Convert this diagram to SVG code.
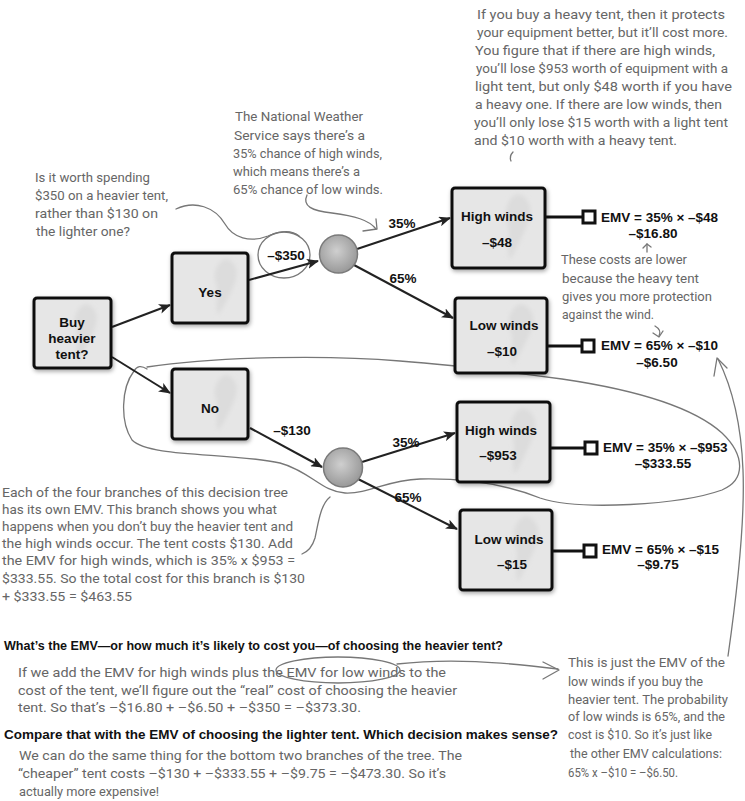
<svg xmlns="http://www.w3.org/2000/svg" width="745" height="801" viewBox="0 0 745 801">
<defs>
<style>
.box{fill:#e6e6e6;stroke:#111;stroke-width:3;filter:url(#sh)}
.blot{fill:#dcdcdc}
.lbl{font-family:"Liberation Sans",Arial,sans-serif;font-weight:bold;font-size:13.5px;fill:#111}
.mid{text-anchor:middle}
.hand{font-family:Roboto,"Open Sans","DejaVu Sans",sans-serif;font-size:13.5px;fill:#666}
.edge{fill:none;stroke:#222;stroke-width:2}
.stub{stroke:#111;stroke-width:3}
.sq{fill:#fff;stroke:#111;stroke-width:3}
.pen{fill:none;stroke:#777;stroke-width:1.3;stroke-linecap:round;stroke-linejoin:round}
.chance{fill:url(#ball);stroke:#7a7a7a;stroke-width:1.5}
.q{font-family:"Liberation Sans",Arial,sans-serif;font-weight:bold;font-size:13.5px;fill:#111}
</style>
<filter id="sh" x="-20%" y="-20%" width="140%" height="140%">
<feGaussianBlur in="SourceAlpha" stdDeviation="2"/>
<feOffset dx="1" dy="2" result="b"/>
<feFlood flood-color="#000" flood-opacity="0.35"/>
<feComposite in2="b" operator="in"/>
<feMerge><feMergeNode/><feMergeNode in="SourceGraphic"/></feMerge>
</filter>
<filter id="soft"><feGaussianBlur stdDeviation="2"/></filter>
<radialGradient id="ball" cx="0.45" cy="0.42" r="0.6">
<stop offset="0" stop-color="#cfcfcf"/>
<stop offset="1" stop-color="#979797"/>
</radialGradient>
<marker id="ah" markerWidth="12" markerHeight="10" refX="11" refY="5" orient="auto" markerUnits="userSpaceOnUse">
<path d="M0,0 L12,5 L0,10 L3,5 Z" fill="#222"/>
</marker>
</defs>
<rect width="745" height="801" fill="#fff"/>

<!-- handwritten annotations -->
<g id="note-top">
<text class="hand" x="477" y="19" textLength="248" lengthAdjust="spacingAndGlyphs">If you buy a heavy tent, then it protects</text>
<text class="hand" x="477" y="37" textLength="251" lengthAdjust="spacingAndGlyphs">your equipment better, but it’ll cost more.</text>
<text class="hand" x="475" y="55" textLength="240" lengthAdjust="spacingAndGlyphs">You figure that if there are high winds,</text>
<text class="hand" x="476" y="73" textLength="252" lengthAdjust="spacingAndGlyphs">you’ll lose $953 worth of equipment with a</text>
<text class="hand" x="475" y="91" textLength="257" lengthAdjust="spacingAndGlyphs">light tent, but only $48 worth if you have</text>
<text class="hand" x="475" y="109" textLength="247" lengthAdjust="spacingAndGlyphs">a heavy one. If there are low winds, then</text>
<text class="hand" x="474" y="127" textLength="254" lengthAdjust="spacingAndGlyphs">you’ll only lose $15 worth with a light tent</text>
<text class="hand" x="474" y="145" textLength="203" lengthAdjust="spacingAndGlyphs">and $10 worth with a heavy tent.</text>
<path class="pen" d="M513,152 Q509,156 511,161"/>
</g>
<g id="note-nws">
<text class="hand" x="235" y="121" textLength="128" lengthAdjust="spacingAndGlyphs">The National Weather</text>
<text class="hand" x="234" y="140" textLength="131" lengthAdjust="spacingAndGlyphs">Service says there’s a</text>
<text class="hand" x="233" y="158" textLength="149" lengthAdjust="spacingAndGlyphs">35% chance of high winds,</text>
<text class="hand" x="233" y="176" textLength="127" lengthAdjust="spacingAndGlyphs">which means there’s a</text>
<text class="hand" x="233" y="194" textLength="150" lengthAdjust="spacingAndGlyphs">65% chance of low winds.</text>
<path class="pen" d="M307,195 C302,206 312,211 332,213 C355,216 369,220 376,229"/>
<polyline class="pen" points="363,231 377,229 376,219"/>
</g>
<g id="note-worth">
<text class="hand" x="35" y="182" textLength="115" lengthAdjust="spacingAndGlyphs">Is it worth spending</text>
<text class="hand" x="35" y="200" textLength="133" lengthAdjust="spacingAndGlyphs">$350 on a heavier tent,</text>
<text class="hand" x="35" y="218" textLength="123" lengthAdjust="spacingAndGlyphs">rather than $130 on</text>
<text class="hand" x="36" y="236" textLength="94" lengthAdjust="spacingAndGlyphs">the lighter one?</text>
<path class="pen" d="M176,209 C195,200 215,207 225,224 C233,238 250,243 268,236 C280,231 292,230 299,236"/>
<ellipse class="pen" cx="284" cy="255" rx="26" ry="23"/>
</g>
<g id="note-lower">
<text class="hand" x="561" y="264" textLength="126" lengthAdjust="spacingAndGlyphs">These costs are lower</text>
<text class="hand" x="562" y="283" textLength="137" lengthAdjust="spacingAndGlyphs">because the heavy tent</text>
<text class="hand" x="562" y="301" textLength="150" lengthAdjust="spacingAndGlyphs">gives you more protection</text>
<text class="hand" x="562" y="319" textLength="92" lengthAdjust="spacingAndGlyphs">against the wind.</text>
<path class="pen" d="M647,252 L647,244"/>
<polyline class="pen" points="643,248 647,244 651,247"/>
<path class="pen" d="M655,326 Q662,330 659,336"/>
<polyline class="pen" points="653,333 659,337 663,331"/>
</g>
<g id="note-branch">
<text class="hand" x="2" y="497" textLength="286" lengthAdjust="spacingAndGlyphs">Each of the four branches of this decision tree</text>
<text class="hand" x="2" y="514" textLength="275" lengthAdjust="spacingAndGlyphs">has its own EMV. This branch shows you what</text>
<text class="hand" x="2" y="531" textLength="291" lengthAdjust="spacingAndGlyphs">happens when you don’t buy the heavier tent and</text>
<text class="hand" x="2" y="548" textLength="291" lengthAdjust="spacingAndGlyphs">the high winds occur. The tent costs $130. Add</text>
<text class="hand" x="2" y="565" textLength="293" lengthAdjust="spacingAndGlyphs">the EMV for high winds, which is 35% x $953 =</text>
<text class="hand" x="2" y="583" textLength="303" lengthAdjust="spacingAndGlyphs">$333.55. So the total cost for this branch is $130</text>
<text class="hand" x="2" y="601" textLength="130" lengthAdjust="spacingAndGlyphs">+ $333.55 = $463.55</text>
<path class="pen" d="M330,497 C320,505 318,525 315,538 C312,548 307,552 302,554"/>
</g>
<g id="note-justemv">
<text class="hand" x="568" y="667" textLength="157" lengthAdjust="spacingAndGlyphs">This is just the EMV of the</text>
<text class="hand" x="568" y="686" textLength="135" lengthAdjust="spacingAndGlyphs">low winds if you buy the</text>
<text class="hand" x="568" y="704" textLength="160" lengthAdjust="spacingAndGlyphs">heavier tent. The probability</text>
<text class="hand" x="568" y="721" textLength="157" lengthAdjust="spacingAndGlyphs">of low winds is 65%, and the</text>
<text class="hand" x="568" y="739" textLength="144" lengthAdjust="spacingAndGlyphs">cost is $10. So it’s just like</text>
<text class="hand" x="570" y="758" textLength="152" lengthAdjust="spacingAndGlyphs">the other EMV calculations:</text>
<text class="hand" x="568" y="777" textLength="110" lengthAdjust="spacingAndGlyphs">65% x –$10 = –$6.50.</text>
<path class="pen" d="M728,656 C736,600 745,520 743,470 C741,420 731,385 718,359"/>
<polyline class="pen" points="714,376 717,358 727,368"/>
</g>

<!-- lasso loop -->
<path class="pen" d="M147,369 C141,365 137,366 134,371 C121,388 120,422 132,440 C150,458 230,452 280,463 C310,471 322,492 345,493 C370,494 386,480 420,479 C470,478 510,486 540,498 C580,511 680,505 722,490 C746,480 745,455 722,433 C692,406 630,389 562,379 C502,371 452,365 400,361 C330,355 220,356 147,367"/>

<!-- connectors -->
<g id="connectors">
<line class="edge" x1="112" y1="327" x2="170" y2="305" marker-end="url(#ah)"/>
<line class="edge" x1="112" y1="357" x2="170" y2="393" marker-end="url(#ah)"/>
<line class="edge" x1="249" y1="280" x2="318" y2="261" marker-end="url(#ah)"/>
<line class="edge" x1="357" y1="249" x2="450" y2="218" marker-end="url(#ah)"/>
<line class="edge" x1="354" y1="265" x2="453" y2="318" marker-end="url(#ah)"/>
<line class="edge" x1="250" y1="428" x2="322" y2="467" marker-end="url(#ah)"/>
<line class="edge" x1="362" y1="462" x2="455" y2="433" marker-end="url(#ah)"/>
<line class="edge" x1="358" y1="479" x2="457" y2="529" marker-end="url(#ah)"/>
<line class="stub" x1="546" y1="217" x2="584" y2="217"/>
<line class="stub" x1="548" y1="346" x2="583" y2="346"/>
<line class="stub" x1="551" y1="448" x2="586" y2="448"/>
<line class="stub" x1="553" y1="551" x2="585" y2="551"/>
</g>
<g id="edge-labels">
<text class="lbl mid" x="286" y="260">–$350</text>
<text class="lbl mid" x="402" y="228">35%</text>
<text class="lbl mid" x="403" y="283">65%</text>
<text class="lbl mid" x="292" y="435">–$130</text>
<text class="lbl mid" x="406" y="447">35%</text>
<text class="lbl mid" x="408" y="502">65%</text>
</g>

<!-- nodes -->
<g id="n-buy">
<rect class="box" x="34" y="298" width="77" height="70" rx="3"/>
<path class="blot" filter="url(#soft)" d="M86,304 C96,306 100,318 94,330 C90,340 84,352 78,360 C74,350 80,338 76,328 C72,318 78,306 86,304 Z"/>
<text class="lbl mid" x="72" y="327">Buy</text>
<text class="lbl mid" x="72" y="343">heavier</text>
<text class="lbl mid" x="72" y="359">tent?</text>
</g>
<g id="n-yes">
<rect class="box" x="172" y="253" width="76" height="70" rx="3"/>
<path class="blot" filter="url(#soft)" d="M226,259 C236,261 240,273 234,285 C230,295 224,307 218,315 C214,305 220,293 216,283 C212,273 218,261 226,259 Z"/>
<text class="lbl mid" x="210" y="297">Yes</text>
</g>
<g id="n-no">
<rect class="box" x="172" y="369" width="76" height="70" rx="3"/>
<path class="blot" filter="url(#soft)" d="M226,375 C236,377 240,389 234,401 C230,411 224,423 218,431 C214,421 220,409 216,399 C212,389 218,377 226,375 Z"/>
<text class="lbl mid" x="210" y="413">No</text>
</g>
<g id="c-top"><circle class="chance" cx="338.5" cy="254" r="19"/></g>
<g id="c-bottom"><circle class="chance" cx="343" cy="467.5" r="19.5"/></g>
<g id="n-hw1">
<rect class="box" x="452" y="188" width="93" height="80" rx="3"/>
<path class="blot" filter="url(#soft)" d="M518,194 C530,197 534,211 527,225 C522,237 516,250 510,260 C505,248 512,234 507,222 C503,210 509,196 518,194 Z"/>
<text class="lbl mid" x="497" y="221">High winds</text>
<text class="lbl mid" x="497" y="247">–$48</text>
</g>
<g id="n-lw1">
<rect class="box" x="455" y="298" width="92" height="75" rx="3"/>
<path class="blot" filter="url(#soft)" d="M521,304 C533,307 537,320 530,333 C525,344 519,356 513,365 C508,354 515,341 510,330 C506,319 512,306 521,304 Z"/>
<text class="lbl mid" x="504" y="330">Low winds</text>
<text class="lbl mid" x="502" y="356">–$10</text>
</g>
<g id="n-hw2">
<rect class="box" x="457" y="402" width="93" height="80" rx="3"/>
<path class="blot" filter="url(#soft)" d="M523,408 C535,411 539,425 532,439 C527,451 521,464 515,474 C510,462 517,448 512,436 C508,424 514,410 523,408 Z"/>
<text class="lbl mid" x="501" y="435">High winds</text>
<text class="lbl mid" x="498" y="460">–$953</text>
</g>
<g id="n-lw2">
<rect class="box" x="460" y="510" width="92" height="80" rx="3"/>
<path class="blot" filter="url(#soft)" d="M526,516 C538,519 542,533 535,547 C530,559 524,572 518,582 C513,570 520,556 515,544 C511,532 517,518 526,516 Z"/>
<text class="lbl mid" x="509" y="544">Low winds</text>
<text class="lbl mid" x="512" y="569">–$15</text>
</g>
<g id="e-1">
<rect class="sq" x="583" y="211" width="12" height="12"/>
<text class="lbl" x="601" y="222">EMV = 35% × –$48</text>
<text class="lbl mid" x="653" y="238">–$16.80</text>
</g>
<g id="e-2">
<rect class="sq" x="582" y="340" width="12" height="12"/>
<text class="lbl" x="601" y="350">EMV = 65% × –$10</text>
<text class="lbl mid" x="657" y="367">–$6.50</text>
</g>
<g id="e-3">
<rect class="sq" x="585" y="442" width="12" height="12"/>
<text class="lbl" x="603" y="452">EMV = 35% × –$953</text>
<text class="lbl mid" x="663" y="468">–$333.55</text>
</g>
<g id="e-4">
<rect class="sq" x="584" y="545" width="12" height="12"/>
<text class="lbl" x="602" y="554">EMV = 65% × –$15</text>
<text class="lbl mid" x="658" y="569">–$9.75</text>
</g>

<!-- bottom questions -->
<g id="questions">
<text class="q" x="4" y="650" textLength="499" lengthAdjust="spacingAndGlyphs">What’s the EMV—or how much it’s likely to cost you—of choosing the heavier tent?</text>
<text class="hand" x="18" y="677" textLength="428" lengthAdjust="spacingAndGlyphs">If we add the EMV for high winds plus the EMV for low winds to the</text>
<text class="hand" x="18" y="695" textLength="439" lengthAdjust="spacingAndGlyphs">cost of the tent, we’ll figure out the “real” cost of choosing the heavier</text>
<text class="hand" x="18" y="712" textLength="343" lengthAdjust="spacingAndGlyphs">tent. So that’s –$16.80 + –$6.50 + –$350 = –$373.30.</text>
<ellipse class="pen" cx="338" cy="670" rx="62" ry="13"/>
<path class="pen" d="M397,664 C450,658 500,662 558,669"/>
<polyline class="pen" points="543,662 559,670 543,679"/>
<text class="q" x="4" y="739" textLength="554" lengthAdjust="spacingAndGlyphs">Compare that with the EMV of choosing the lighter tent. Which decision makes sense?</text>
<text class="hand" x="19" y="760" textLength="443" lengthAdjust="spacingAndGlyphs">We can do the same thing for the bottom two branches of the tree. The</text>
<text class="hand" x="18" y="778" textLength="428" lengthAdjust="spacingAndGlyphs">“cheaper” tent costs –$130 + –$333.55 + –$9.75 = –$473.30. So it’s</text>
<text class="hand" x="19" y="796" textLength="140" lengthAdjust="spacingAndGlyphs">actually more expensive!</text>
</g>
</svg>
